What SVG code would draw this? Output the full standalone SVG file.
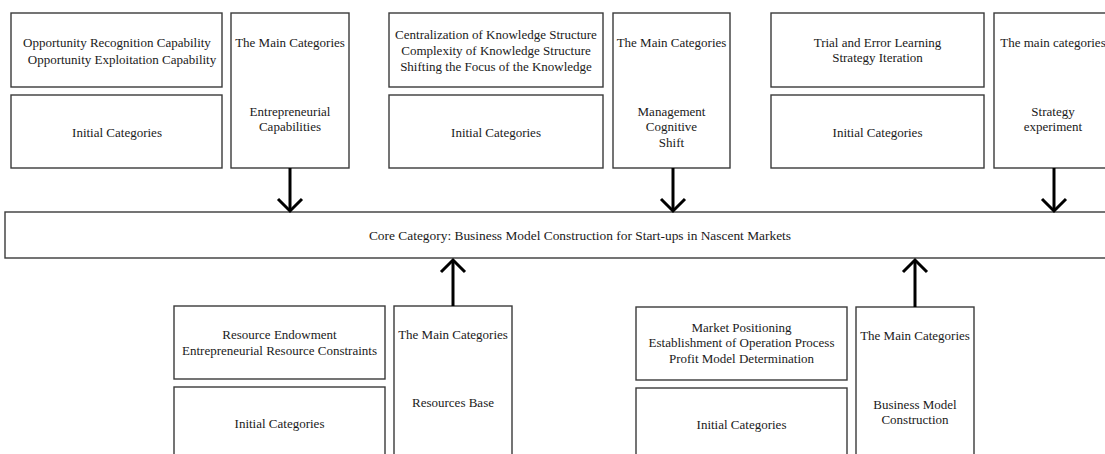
<svg xmlns="http://www.w3.org/2000/svg" width="1105" height="454" viewBox="0 0 1105 454">
  <defs>
    <style>
      .box { fill: #ffffff; stroke: #3a3a3a; stroke-width: 1.4; }
      .lbl { font-family: "Liberation Serif", "Times New Roman", serif; font-size: 13px; fill: #1a1a1a; text-anchor: middle; }
      .core { font-size: 13.4px; }
      .wire { fill: none; stroke: #000000; stroke-width: 3; }
      .head { fill: none; stroke: #000000; stroke-width: 3; stroke-linejoin: miter; }
    </style>
  </defs>
  <rect width="1105" height="454" fill="#ffffff"/>

  <!-- Entrepreneurial capabilities -->
  <g id="initial-entrepreneurial">
    <rect class="box" x="11" y="13" width="211" height="74"/>
    <text class="lbl" x="117" y="47">Opportunity Recognition Capability</text>
    <text class="lbl" x="122" y="64">Opportunity Exploitation Capability</text>
    <rect class="box" x="11" y="95" width="211" height="73"/>
    <text class="lbl" x="117" y="137">Initial Categories</text>
  </g>
  <g id="main-entrepreneurial">
    <rect class="box" x="231" y="13" width="118" height="155"/>
    <text class="lbl" x="290" y="47">The Main Categories</text>
    <text class="lbl" x="290" y="116">Entrepreneurial</text>
    <text class="lbl" x="290" y="131">Capabilities</text>
  </g>

  <!-- Management cognitive shift -->
  <g id="initial-cognitive">
    <rect class="box" x="389" y="13" width="214" height="74"/>
    <text class="lbl" x="496" y="39">Centralization of Knowledge Structure</text>
    <text class="lbl" x="496" y="55">Complexity of Knowledge Structure</text>
    <text class="lbl" x="496" y="71">Shifting the Focus of the Knowledge</text>
    <rect class="box" x="389" y="95" width="214" height="73"/>
    <text class="lbl" x="496" y="137">Initial Categories</text>
  </g>
  <g id="main-cognitive">
    <rect class="box" x="613" y="13" width="117" height="155"/>
    <text class="lbl" x="671.5" y="47">The Main Categories</text>
    <text class="lbl" x="671.5" y="116">Management</text>
    <text class="lbl" x="671.5" y="131">Cognitive</text>
    <text class="lbl" x="671.5" y="147">Shift</text>
  </g>

  <!-- Strategy experiment -->
  <g id="initial-strategy">
    <rect class="box" x="771" y="13" width="213" height="74"/>
    <text class="lbl" x="877.5" y="47">Trial and Error Learning</text>
    <text class="lbl" x="877.5" y="62">Strategy Iteration</text>
    <rect class="box" x="771" y="95" width="213" height="73"/>
    <text class="lbl" x="877.5" y="137">Initial Categories</text>
  </g>
  <g id="main-strategy">
    <rect class="box" x="994" y="13" width="118" height="155"/>
    <text class="lbl" x="1053" y="47">The main categories</text>
    <text class="lbl" x="1053" y="116">Strategy</text>
    <text class="lbl" x="1053" y="131">experiment</text>
  </g>

  <!-- Core category -->
  <g id="core">
    <rect class="box" x="5" y="212" width="1146" height="46"/>
    <text class="lbl core" x="580" y="240">Core Category: Business Model Construction for Start-ups in Nascent Markets</text>
  </g>

  <!-- Resources base -->
  <g id="initial-resources">
    <rect class="box" x="174" y="306" width="211" height="73"/>
    <text class="lbl" x="279.5" y="339">Resource Endowment</text>
    <text class="lbl" x="279.5" y="355">Entrepreneurial Resource Constraints</text>
    <rect class="box" x="174" y="387" width="211" height="80"/>
    <text class="lbl" x="279.5" y="428">Initial Categories</text>
  </g>
  <g id="main-resources">
    <rect class="box" x="394" y="306" width="118" height="160"/>
    <text class="lbl" x="453" y="339">The Main Categories</text>
    <text class="lbl" x="453" y="407">Resources Base</text>
  </g>

  <!-- Business model construction -->
  <g id="initial-business-model">
    <rect class="box" x="636" y="307" width="211" height="73"/>
    <text class="lbl" x="741.5" y="332">Market Positioning</text>
    <text class="lbl" x="741.5" y="347">Establishment of Operation Process</text>
    <text class="lbl" x="741.5" y="363">Profit Model Determination</text>
    <rect class="box" x="636" y="388" width="211" height="80"/>
    <text class="lbl" x="741.5" y="429">Initial Categories</text>
  </g>
  <g id="main-business-model">
    <rect class="box" x="856" y="307" width="118" height="160"/>
    <text class="lbl" x="915" y="340">The Main Categories</text>
    <text class="lbl" x="915" y="409">Business Model</text>
    <text class="lbl" x="915" y="424">Construction</text>
  </g>

  <!-- Connectors into the core category -->
  <g id="connectors">
    <line class="wire" x1="290" y1="168" x2="290" y2="211"/>
    <polyline class="head" points="278,199 290,211 302,199"/>
    <line class="wire" x1="673" y1="168" x2="673" y2="211"/>
    <polyline class="head" points="661,199 673,211 685,199"/>
    <line class="wire" x1="1054" y1="168" x2="1054" y2="211"/>
    <polyline class="head" points="1042,199 1054,211 1066,199"/>
    <line class="wire" x1="453" y1="306" x2="453" y2="260"/>
    <polyline class="head" points="441,272 453,260 465,272"/>
    <line class="wire" x1="915" y1="307" x2="915" y2="260"/>
    <polyline class="head" points="903,272 915,260 927,272"/>
  </g>
</svg>
